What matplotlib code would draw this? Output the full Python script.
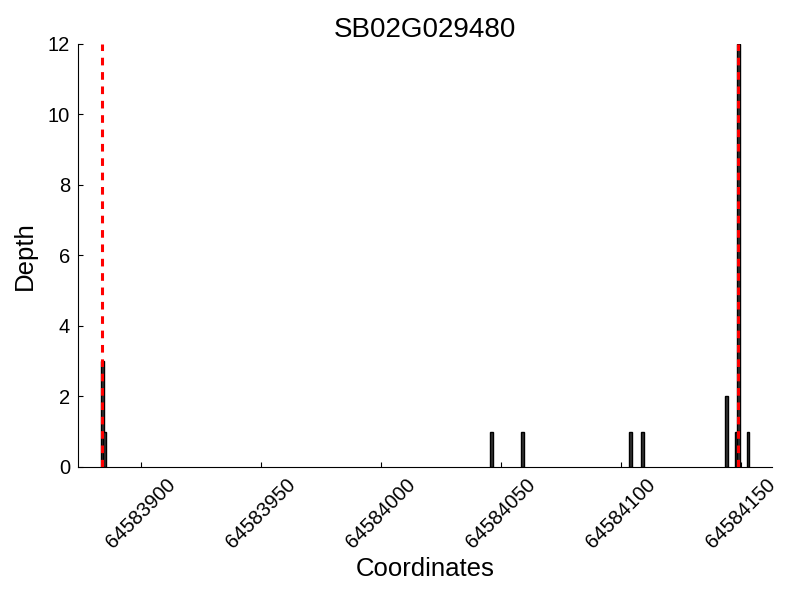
import numpy as np
import matplotlib
matplotlib.use('Agg')
import matplotlib.pyplot as plt

plt.rcParams['font.family'] = ['Liberation Sans', 'DejaVu Sans']

# Depth per coordinate
positions = [64583884, 64583885, 64584046, 64584059, 64584104, 64584109,
             64584144, 64584148, 64584149, 64584153]
depths = [3, 1, 1, 1, 1, 1, 2, 1, 12, 1]

# Gene boundaries
bounds = [64583884, 64584149]

title = 'SB02G029480'
xticks = [64583900, 64583950, 64584000, 64584050, 64584100, 64584150]
yticks = [0, 2, 4, 6, 8, 10, 12]

fig, ax = plt.subplots(figsize=(8, 6), dpi=100)
fig.subplots_adjust(left=0.098, right=0.965, top=0.927, bottom=0.222)

ax.bar(positions, depths, width=1.2, color='#333333', edgecolor='black', linewidth=1)
for b in bounds:
    ax.axvline(b, color='red', linestyle=(0, (2.5, 2.2)), linewidth=2.2, zorder=3)

ax.set_xlim(64583874, 64584163)
ax.set_ylim(0, 12)
ax.set_xticks(xticks)
ax.set_yticks(yticks)
ax.set_xticklabels([str(t) for t in xticks], rotation=45, fontsize=14.5)
ax.tick_params(axis='y', labelsize=14.5, pad=6)
ax.tick_params(axis='x', pad=6)
ax.tick_params(direction='in', top=False, right=False)
ax.spines['top'].set_visible(False)
ax.spines['right'].set_visible(False)

ax.set_title(title, fontsize=20, pad=5)
ax.set_xlabel('Coordinates', fontsize=18.5, labelpad=4)
ax.set_ylabel('Depth', fontsize=18.5, labelpad=8)

fig.savefig('out.png', dpi=100)
